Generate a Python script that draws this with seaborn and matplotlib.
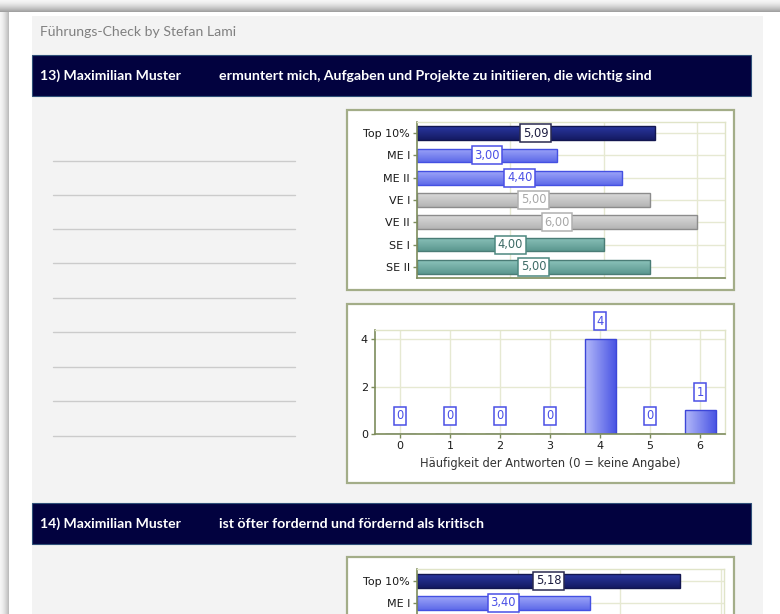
import numpy as np
import pandas as pd
import matplotlib
matplotlib.use("Agg")
import matplotlib.pyplot as plt
import seaborn as sns
from matplotlib.patches import Rectangle
from matplotlib.colors import LinearSegmentedColormap

# Daten
kategorien = ["Top 10%", "ME I", "ME II", "VE I", "VE II", "SE I", "SE II"]
werte_13 = [5.09, 3.00, 4.40, 5.00, 6.00, 4.00, 5.00]
antworten = [0, 1, 2, 3, 4, 5, 6]
haeufigkeit_13 = [0, 0, 0, 0, 4, 0, 1]
kategorien_14 = ["Top 10%", "ME I"]
werte_14 = [5.18, 3.40]

titel = "Führungs-Check by Stefan Lami"
frage_13 = ("13) Maximilian Muster", "ermuntert mich, Aufgaben und Projekte zu initiieren, die wichtig sind")
frage_14 = ("14) Maximilian Muster", "ist öfter fordernd und fördernd als kritisch")
xlabel_2 = "Häufigkeit der Antworten (0 = keine Angabe)"

# Farben je Gruppe: (hell, dunkel, Rand, Textfarbe, Rahmen Label)
farben = {
    "Top 10%": ("#2a37a0", "#141a62", "#121650", "#1c1c40", "#2a2a50"),
    "ME I": ("#9ea6f8", "#5e6ae9", "#4450e2", "#4a50e6", "#4a50e6"),
    "ME II": ("#9ea6f8", "#5e6ae9", "#4450e2", "#4a50e6", "#4a50e6"),
    "VE I": ("#dadada", "#b4b4b4", "#8c8c8c", "#a8a8a8", "#b0b0b0"),
    "VE II": ("#dadada", "#b4b4b4", "#8c8c8c", "#a8a8a8", "#b0b0b0"),
    "SE I": ("#8cc3bb", "#5b978f", "#4a7c76", "#3d6b66", "#4d8880"),
    "SE II": ("#8cc3bb", "#5b978f", "#4a7c76", "#3d6b66", "#4d8880"),
}

sns.set_style("white")
plt.rcParams["font.family"] = ["DejaVu Sans"]

W, H = 780, 614
fig = plt.figure(figsize=(W / 100, H / 100), dpi=100)
fig.patch.set_facecolor("white")

bg = fig.add_axes([0, 0, 1, 1])
bg.set_xlim(0, W)
bg.set_ylim(H, 0)
bg.axis("off")


def px_axes(x0, y0, x1, y1):
    return fig.add_axes([x0 / W, 1 - y1 / H, (x1 - x0) / W, (y1 - y0) / H])


# Seitenschatten
for i in range(12):
    g = 0.96 - 0.33 * (i / 11) ** 1.5
    bg.add_patch(Rectangle((0, i), W, 1, color=(g, g, g), lw=0))
for i in range(9):
    g = 0.96 - 0.22 * (i / 8) ** 1.5
    bg.add_patch(Rectangle((i, 12), 1, H, color=(g, g, g), lw=0))
bg.add_patch(Rectangle((9, 12), W, H, color="white", lw=0))
bg.add_patch(Rectangle((32, 16), 763 - 32, H, color="#f3f3f3", lw=0))

bg.text(40, 32, titel, color="#808080", fontsize=10.1, family="Lato", va="center")

for y0, frage in [(55, frage_13), (503, frage_14)]:
    bg.add_patch(Rectangle((32, y0), 719, 41, fc="#02023f", ec="#2f5078", lw=0.8))
    bg.text(40, y0 + 21, frage[0], color="white", fontsize=10.1, family="Lato",
            weight="bold", va="center")
    bg.text(219, y0 + 21, frage[1], color="white", fontsize=10.2, family="Lato",
            weight="bold", va="center")

for y in [161, 195, 229, 263, 298, 332, 367, 401, 436]:
    bg.plot([53, 295], [y, y], color="#cbcbcb", lw=1)

for y0, y1 in [(110, 290), (304, 483), (557, 700)]:
    bg.add_patch(Rectangle((347, y0), 387, y1 - y0, fc="white", ec="#a3ad88", lw=1.6))


def gradient(ax, patch, hell, dunkel, horizontal=False):
    x, y = patch.get_x(), patch.get_y()
    w, h = patch.get_width(), patch.get_height()
    if w == 0 or h == 0:
        return
    cmap = LinearSegmentedColormap.from_list("g", [hell, dunkel])
    t = np.linspace(0, 1, 64)
    arr = t.reshape(1, -1) if horizontal else t.reshape(-1, 1)
    im = ax.imshow(arr, cmap=cmap, extent=[x, x + w, y + h, y], aspect="auto",
                   zorder=patch.get_zorder() - 0.1, interpolation="bilinear")
    im.set_clip_path(patch)
    patch.set_facecolor("none")


def style_axes(ax):
    ax.set_axisbelow(True)
    for s in ["top", "right"]:
        ax.spines[s].set_color("#e0e4c8")
        ax.spines[s].set_linewidth(1)
    for s in ["left", "bottom"]:
        ax.spines[s].set_color("#7d8c5c")
        ax.spines[s].set_linewidth(1.2)
    ax.grid(True, color="#e6e9d2", lw=1)
    ax.tick_params(axis="both", colors="#7d8c5c", labelcolor="#1a1a1a",
                   labelsize=8, length=3, width=1, pad=2)
    ax.set_xlabel("")
    ax.set_ylabel("")


def hbar_chart(ax, cats, vals, ylim, xmax, bottom_spine=True):
    df = pd.DataFrame({"kat": cats, "wert": vals})
    sns.barplot(data=df, x="wert", y="kat", hue="kat", order=cats, hue_order=cats,
                palette={k: farben[k][1] for k in cats}, legend=False,
                orient="h", width=0.62, ax=ax)
    style_axes(ax)
    for patch, k in zip(ax.patches, cats):
        patch.set_edgecolor(farben[k][2])
        patch.set_linewidth(1)
        gradient(ax, patch, farben[k][0], farben[k][1])
    for i, (k, v) in enumerate(zip(cats, vals)):
        ax.text(v / 2, i, f"{v:.2f}".replace(".", ","), ha="center", va="center",
                fontsize=8.3, color=farben[k][3], zorder=5,
                bbox=dict(boxstyle="square,pad=0.22", fc="white", ec=farben[k][4], lw=1.1))
    ax.set_xlim(0, xmax)
    ax.set_ylim(*ylim)
    ax.set_xticks([2, 4, 6])
    ax.set_xticklabels([])
    ax.tick_params(axis="x", length=0)
    ax.tick_params(axis="y", left=True)
    if not bottom_spine:
        ax.spines["bottom"].set_visible(False)


ax1 = px_axes(417, 122, 725, 278)
hbar_chart(ax1, kategorien, werte_13, (6.5, -0.5), 6.6)

ax3 = px_axes(417, 569, 724, 614)
hbar_chart(ax3, kategorien_14, werte_14, (1.51, -0.53), 6.05, bottom_spine=False)

# Häufigkeit der Antworten
ax2 = px_axes(375, 330, 725, 434)
df2 = pd.DataFrame({"antwort": antworten, "anzahl": haeufigkeit_13})
sns.barplot(data=df2, x="antwort", y="anzahl", color="#6f79ec", width=0.62, ax=ax2)
style_axes(ax2)
for patch in ax2.patches:
    patch.set_edgecolor("#3c46d8")
    patch.set_linewidth(1)
    gradient(ax2, patch, "#b3b9f9", "#4a55e4", horizontal=True)
for i, c in enumerate(haeufigkeit_13):
    ax2.text(i, c + 0.77, str(c), ha="center", va="center", fontsize=8.3,
             color="#4a50e6", zorder=5,
             bbox=dict(boxstyle="square,pad=0.22", fc="white", ec="#4a50e6", lw=1.1))
ax2.set_xlim(-0.5, 6.5)
ax2.set_ylim(0, 4.4)
ax2.set_yticks([0, 2, 4])
ax2.set_xticks(range(len(antworten)))
ax2.set_xticklabels([str(a) for a in antworten])
ax2.tick_params(axis="both", left=True, bottom=True)
ax2.set_xlabel(xlabel_2, fontsize=8.3, color="#333333", labelpad=4)

fig.savefig("out.png", dpi=100)
